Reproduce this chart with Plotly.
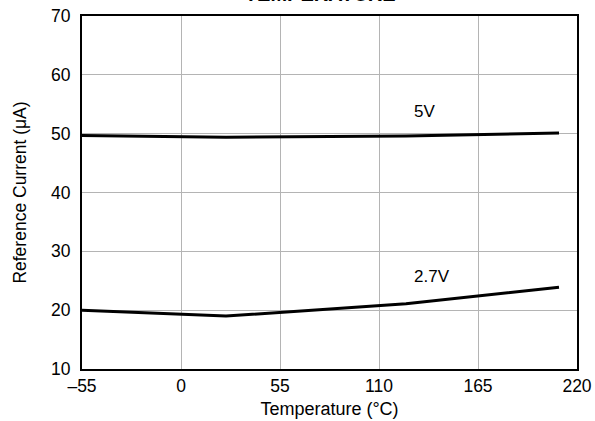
import plotly.graph_objects as go

temp_5v = [-55, 25, 125, 210]
cur_5v = [49.7, 49.4, 49.6, 50.1]
temp_27v = [-55, 25, 125, 210]
cur_27v = [20.0, 19.0, 21.1, 23.9]
x_ticks = [-55, 0, 55, 110, 165, 220]
x_ticklabels = ["\u201355", "0", "55", "110", "165", "220"]
y_ticks = [10, 20, 30, 40, 50, 60, 70]

font = "Liberation Sans, Arial, sans-serif"
fig = go.Figure()
fig.add_trace(go.Scatter(x=temp_5v, y=cur_5v, mode="lines",
                         line=dict(color="black", width=3), showlegend=False))
fig.add_trace(go.Scatter(x=temp_27v, y=cur_27v, mode="lines",
                         line=dict(color="black", width=3), showlegend=False))

fig.add_annotation(x=135, y=53.8, text="5V", showarrow=False,
                   font=dict(family=font, size=17, color="black"))
fig.add_annotation(x=139.5, y=25.7, text="2.7V", showarrow=False,
                   font=dict(family=font, size=17, color="black"))
fig.add_annotation(xref="paper", yref="paper", x=0.481, y=1, yanchor="bottom",
                   yshift=9, text="<b>REFERENCE CURRENT vs<br>TEMPERATURE</b>",
                   showarrow=False, font=dict(family=font, size=20, color="black"))

fig.update_layout(
    width=595, height=421,
    margin=dict(l=82, r=18, t=16, b=52),
    paper_bgcolor="white", plot_bgcolor="white",
    font=dict(family=font, size=17, color="black"),
    xaxis=dict(range=[-55, 220], tickvals=x_ticks, ticktext=x_ticklabels,
               showgrid=True, gridcolor="#b4b4b4", gridwidth=1,
               showline=True, linecolor="black", linewidth=2, mirror=True,
               ticks="", zeroline=False, automargin=False,
               tickfont=dict(size=17.5),
               title=dict(text="Temperature (°C)", standoff=7, font=dict(size=18))),
    yaxis=dict(range=[10, 70], tickvals=y_ticks,
               showgrid=True, gridcolor="#b4b4b4", gridwidth=1,
               showline=True, linecolor="black", linewidth=2, mirror=True,
               ticks="", zeroline=False, automargin=False,
               tickfont=dict(size=17.5), ticklabelstandoff=6,
               title=dict(text="Reference Current (μA)", standoff=20, font=dict(size=17.5))),
)
fig.write_html("out.html", config={"displayModeBar": False},
               post_script="document.body.style.margin='0';")
